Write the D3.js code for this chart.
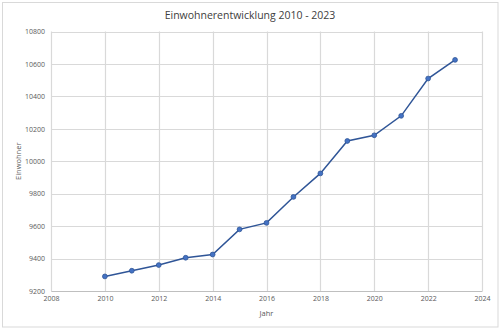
<!DOCTYPE html>
<html>
<head>
<meta charset="utf-8">
<script src="https://cdn.jsdelivr.net/npm/d3@7"></script>
<style>
  html, body { margin: 0; padding: 0; background: #fff; }
  svg { display: block; }
  text { font-family: "Open Sans", "Noto Sans", sans-serif; }
</style>
</head>
<body>
<svg id="chart" width="500" height="329"></svg>
<script>
// Population by year
const years = [2010, 2011, 2012, 2013, 2014, 2015, 2016, 2017, 2018, 2019, 2020, 2021, 2022, 2023];
const residents = [9290, 9325, 9360, 9405, 9425, 9580, 9620, 9780, 9925, 10125, 10160, 10280, 10510, 10625];
const xTicks = [2008, 2010, 2012, 2014, 2016, 2018, 2020, 2022, 2024];
const yTicks = [9200, 9400, 9600, 9800, 10000, 10200, 10400, 10600, 10800];
const title = "Einwohnerentwicklung 2010 - 2023";
const xTitle = "Jahr";
const yTitle = "Einwohner";

const svg = d3.select("#chart");
const plot = { left: 51, right: 482, top: 31.5, bottom: 291 };

// Chart frame
svg.append("rect")
  .attr("x", 2.5).attr("y", 2.5)
  .attr("width", 495.5).attr("height", 324.5)
  .attr("fill", "#fff")
  .attr("stroke", "#d9d9d9").attr("stroke-width", 1);

const x = d3.scaleLinear().domain([2008, 2024]).range([plot.left, plot.right]);
const y = d3.scaleLinear().domain([9200, 10800]).range([plot.bottom, plot.top]);

// Gridlines
const grid = svg.append("g");
grid.selectAll("line.h").data(yTicks).join("line")
  .attr("x1", plot.left).attr("x2", plot.right)
  .attr("y1", d => Math.round(y(d)) + 0.5).attr("y2", d => Math.round(y(d)) + 0.5)
  .attr("stroke", "#d9d9d9").attr("stroke-width", 1.2);
grid.selectAll("line.v").data(xTicks).join("line")
  .attr("y1", plot.top).attr("y2", plot.bottom)
  .attr("x1", d => Math.round(x(d)) + 0.5).attr("x2", d => Math.round(x(d)) + 0.5)
  .attr("stroke", "#d9d9d9").attr("stroke-width", 1.2);

// Axes (labels only, lines come from the grid)
const xAxis = svg.append("g")
  .attr("transform", `translate(0,${plot.bottom})`)
  .call(d3.axisBottom(x).tickValues(xTicks).tickFormat(d3.format("d")).tickSize(0).tickPadding(5));
xAxis.select(".domain").attr("stroke", "#bfbfbf");
xAxis.selectAll("text").attr("fill", "#595959").attr("font-size", 7);

const yAxis = svg.append("g")
  .attr("transform", `translate(${plot.left},0)`)
  .call(d3.axisLeft(y).tickValues(yTicks).tickFormat(d3.format("d")).tickSize(0).tickPadding(6));
yAxis.select(".domain").attr("stroke", "#d9d9d9");
yAxis.selectAll("text").attr("fill", "#595959").attr("font-size", 7);

// Titles
svg.append("text")
  .attr("x", 250).attr("y", 19)
  .attr("text-anchor", "middle")
  .attr("font-size", 10.5).attr("fill", "#404040")
  .text(title);

svg.append("text")
  .attr("x", (plot.left + plot.right) / 2).attr("y", 316)
  .attr("text-anchor", "middle")
  .attr("font-size", 7.5).attr("fill", "#595959")
  .text(xTitle);

svg.append("text")
  .attr("transform", `translate(21,${(plot.top + plot.bottom) / 2}) rotate(-90)`)
  .attr("text-anchor", "middle")
  .attr("font-size", 7.5).attr("fill", "#595959")
  .text(yTitle);

// Series
const data = years.map((yr, i) => ({ year: yr, value: residents[i] }));
svg.append("path")
  .datum(data)
  .attr("fill", "none")
  .attr("stroke", "#2f5597").attr("stroke-width", 1.5)
  .attr("d", d3.line().x(d => x(d.year)).y(d => y(d.value)));

svg.append("g").selectAll("circle").data(data).join("circle")
  .attr("cx", d => x(d.year)).attr("cy", d => y(d.value))
  .attr("r", 2.4)
  .attr("fill", "#4472c4").attr("stroke", "#2f5597").attr("stroke-width", 0.8);
</script>
</body>
</html>
